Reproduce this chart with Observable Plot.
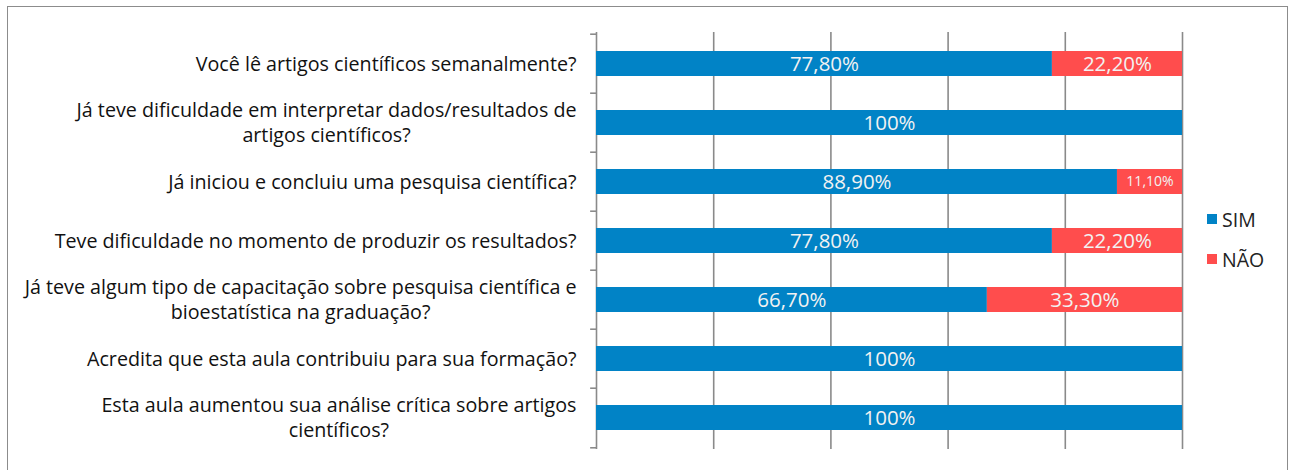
<!DOCTYPE html>
<html>
<head>
<meta charset="utf-8">
<script src="https://cdn.jsdelivr.net/npm/d3@7"></script>
<script src="https://cdn.jsdelivr.net/npm/@observablehq/plot@0.6"></script>
<style>
  html, body { margin: 0; padding: 0; background: #fff; }
  #wrap { position: relative; width: 1289px; height: 470px; overflow: hidden; font-family: "Open Sans", sans-serif; }
  #frame { position: absolute; left: 7px; top: 6px; width: 1281px; height: 480px; border: 1.5px solid #8c8c8c; box-sizing: border-box; }
  #chart { position: absolute; left: 0; top: 0; }
  #legend { position: absolute; left: 1207px; top: 205px; font-size: 19.5px; color: #222; }
  #legend .item { display: flex; align-items: center; height: 28px; margin-bottom: 12px; }
  #legend .sw { width: 10px; height: 10px; margin-right: 5px; }
</style>
</head>
<body>
<div id="wrap">
  <div id="frame"></div>
  <div id="chart"></div>
  <div id="legend"></div>
</div>
<script>
const questions = [
  "Você lê artigos científicos semanalmente?",
  "Já teve dificuldade em interpretar dados/resultados de\nartigos científicos?",
  "Já iniciou e concluiu uma pesquisa científica?",
  "Teve dificuldade no momento de produzir os resultados?",
  "Já teve algum tipo de capacitação sobre pesquisa científica e\nbioestatística na graduação?",
  "Acredita que esta aula contribuiu para sua formação?",
  "Esta aula aumentou sua análise crítica sobre artigos\ncientíficos?"
];
const simValues = [77.8, 100, 88.9, 77.8, 66.7, 100, 100];
const naoValues = [22.2, 0, 11.1, 22.2, 33.3, 0, 0];
const answers = ["SIM", "NÃO"];
const answerColors = ["#0183c6", "#ff4d4d"];
const xTicks = [0, 20, 40, 60, 80, 100];

const rows = [];
questions.forEach((q, i) => {
  if (simValues[i] > 0) rows.push({question: q, answer: "SIM", value: simValues[i]});
  if (naoValues[i] > 0) rows.push({question: q, answer: "NÃO", value: naoValues[i]});
});
const fmt = v => v === 100 ? "100%" : v.toFixed(2).replace(".", ",") + "%";

const W = 1289, H = 470, mt = 32, mb = 21, ml = 596, mr = 107;
const step = (H - mt - mb) / questions.length;

const stackOpts = {x: "value", y: "question", z: "answer", order: answers};

const plot = Plot.plot({
  width: W,
  height: H,
  marginTop: mt,
  marginBottom: mb,
  marginLeft: ml,
  marginRight: mr,
  style: {fontFamily: "'Open Sans', sans-serif", background: "transparent"},
  x: {domain: [0, 100], axis: null},
  y: {domain: questions, axis: null, paddingInner: 0.58, paddingOuter: 0.29},
  color: {domain: answers, range: answerColors},
  marks: [
    Plot.ruleX(xTicks, {stroke: "#8a8a8a", strokeWidth: 1.6}),
    Plot.ruleY(questions, {y: d => d, x1: -1, x2: 0, dy: -step / 2, stroke: "#8a8a8a", strokeWidth: 1.6}),
    Plot.ruleY(questions.slice(-1), {y: d => d, x1: -1, x2: 0, dy: step / 2, stroke: "#8a8a8a", strokeWidth: 1.6}),
    Plot.barX(rows, Plot.stackX({...stackOpts, fill: "answer"})),
    Plot.text(questions, {x: 0, y: d => d, text: d => d, textAnchor: "end", dx: -20, dy: -1.5, fontSize: 19.7, lineHeight: 1.27, fill: "#111"}),
    Plot.text(rows, Plot.stackX({...stackOpts, text: d => fmt(d.value), fill: "#f2f2f2",
      fontSize: d => d.value < 15 ? 14 : 20.5})),
  ]
});
document.getElementById("chart").appendChild(plot);

// center multi-line labels within their block (Excel-style wrapping)
const textGroups = plot.querySelectorAll('g[aria-label="text"]');
if (textGroups.length) {
  textGroups[0].querySelectorAll("text").forEach(t => {
    const spans = t.querySelectorAll("tspan");
    if (spans.length > 1) {
      let maxW = 0;
      spans.forEach(s => { maxW = Math.max(maxW, s.getComputedTextLength()); });
      t.setAttribute("text-anchor", "middle");
      spans.forEach(s => s.setAttribute("x", -maxW / 2));
    }
  });
}

const legend = document.getElementById("legend");
answers.forEach((a, i) => {
  const item = document.createElement("div");
  item.className = "item";
  const sw = document.createElement("div");
  sw.className = "sw";
  sw.style.background = answerColors[i];
  const lab = document.createElement("span");
  lab.textContent = a;
  item.appendChild(sw);
  item.appendChild(lab);
  legend.appendChild(item);
});
</script>
</body>
</html>
